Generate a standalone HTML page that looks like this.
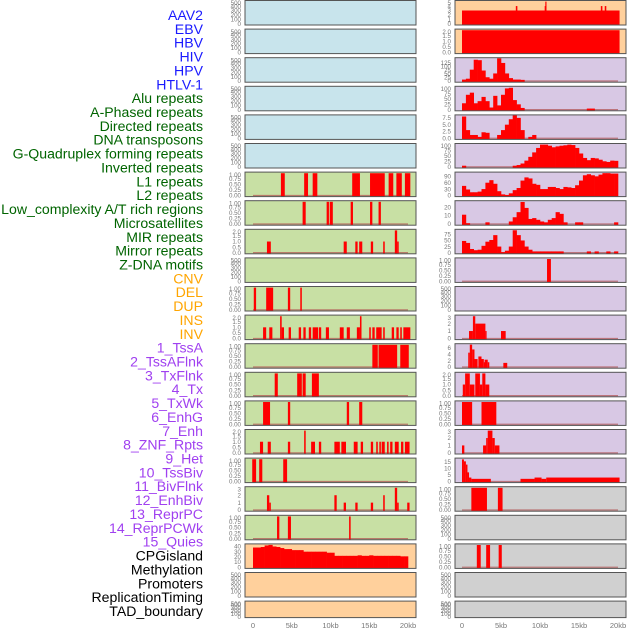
<!DOCTYPE html>
<html><head><meta charset="utf-8"><style>
html,body{margin:0;padding:0;background:#fff;}
svg{display:block;font-family:"Liberation Sans",sans-serif;}
</style></head><body>
<svg id="chart" width="630" height="630" viewBox="0 0 630 630" xmlns="http://www.w3.org/2000/svg"></svg>
<script>
// ---------- data ----------
const trackLabels = ["AAV2","EBV","HBV","HIV","HPV","HTLV-1","Alu repeats","A-Phased repeats","Directed repeats","DNA transposons","G-Quadruplex forming repeats","Inverted repeats","L1 repeats","L2 repeats","Low_complexity A/T rich regions","Microsatellites","MIR repeats","Mirror repeats","Z-DNA motifs","CNV","DEL","DUP","INS","INV","1_TssA","2_TssAFlnk","3_TxFlnk","4_Tx","5_TxWk","6_EnhG","7_Enh","8_ZNF_Rpts","9_Het","10_TssBiv","11_BivFlnk","12_EnhBiv","13_ReprPC","14_ReprPCWk","15_Quies","CPGisland","Methylation","Promoters","ReplicationTiming","TAD_boundary"];
const labelGroups = ["virus","virus","virus","virus","virus","virus","repeat","repeat","repeat","repeat","repeat","repeat","repeat","repeat","repeat","repeat","repeat","repeat","repeat","sv","sv","sv","sv","sv","state","state","state","state","state","state","state","state","state","state","state","state","state","state","state","other","other","other","other","other"];
const xTickValues = [0,5,10,15,20];
const xTickLabels = ["0","5kb","10kb","15kb","20kb"];
const ticks01 = [0,0.25,0.5,0.75,1];
const ticks01Labels = ["0.00","0.25","0.50","0.75","1.00"];
const ticks02 = [0,0.5,1,1.5,2];
const ticks02Labels = ["0.0","0.5","1.0","1.5","2.0"];
const ticks03 = [0,1,2,3];
const ticks500 = [0,100,200,300,400,500];

// left column bar intervals [startKb, endKb, height]
const leftL1 = [[3.6,4.1,1],[6.6,7.1,1],[7.7,8.3,1],[12.8,13.8,1],[15.1,17.0,1],[17.5,18.1,1],[18.5,19.2,1],[19.6,20.3,1]];
const leftL2 = [[6.4,6.8,1],[9.5,9.8,1],[9.9,10.3,1],[12.6,12.9,1],[15.1,15.4,1],[16.2,16.5,1]];
const leftLowComplex = [[1.8,2.3,1],[11.7,12.1,1],[13.2,13.5,1],[13.7,14.1,1],[15.2,15.5,1],[16.8,17.0,1],[18.3,18.6,2],[18.6,18.8,1]];
const leftMIR = [[0.1,0.4,1],[1.7,2.6,1],[4.5,4.8,1],[6.1,6.3,1]];
const leftMirror = [[1.3,1.7,1],[2.1,2.5,1],[3.5,3.7,2],[3.7,4.0,1],[4.6,4.9,1],[5.9,6.2,1],[6.5,6.8,1],[7.2,7.5,1],[7.7,8.4,1],[8.5,8.8,1],[9.4,9.8,1],[11.2,11.7,1],[12.1,12.5,1],[13.4,13.8,1],[13.8,14.0,2],[15.0,15.2,1],[15.4,15.7,1],[15.9,16.6,1],[16.8,17.0,1],[17.9,18.2,1],[18.5,18.8,1],[19.0,19.2,1],[19.4,20.3,1]];
const leftZDNA = [[15.4,16.1,1],[16.2,18.6,1],[19.0,20.1,1]];
const leftCNV = [[2.8,3.2,1],[5.7,6.3,1],[6.4,6.8,1],[7.6,8.5,1]];
const leftDEL = [[1.3,2.2,1],[4.5,4.8,1],[12.1,12.4,1],[13.7,14.1,1]];
const leftDUP = [[0.9,1.3,1],[1.9,2.3,1],[4.5,4.8,1],[6.6,6.8,2],[7.5,8.0,1],[8.5,8.8,1],[10.5,11.2,1],[11.4,12.0,1],[13.0,13.5,1],[13.9,14.2,1],[15.2,15.5,1],[15.9,16.1,1],[16.3,16.5,1],[16.6,17.0,1],[17.3,17.5,1],[17.7,18.0,1],[18.3,18.8,1],[19.1,19.4,1],[19.6,20.2,1]];
const leftINS = [[-0.1,0.4,1],[0.8,1.2,1],[3.9,4.4,1]];
const leftINV = [[1.8,2.1,2],[2.1,2.3,1],[10.5,10.8,2],[11.7,12.0,1],[13.2,13.5,1],[15.2,15.5,1],[16.8,17.0,2],[18.3,18.6,3],[18.6,18.8,1],[19.9,20.2,1]];
const leftTssA = [[3.1,3.4,1],[4.5,4.9,1],[12.4,12.6,1]];
// left CpG profile, 0.5 kb bins from 0 to 20 kb
const leftCpG = [38,38,39,42,43,40,39,37,35,35,33,33,33,30,30,30,30,30,30,28,28,22,22,22,22,22,22,23,22,22,23,22,22,22,22,22,22,22,21,21];

// right column
const rightAAV2 = [[0,20.2,3],[6.9,7.1,4],[10.6,10.8,4],[10.68,10.76,5],[17.8,18.0,4],[18.3,18.5,4]];
const rightEBV = [[0,20.2,2]];
const rightHIV = [10,16,78,146,143,72,26,16,52,156,124,52,20,10,10,8,0,0,0,0,0,0,0,0,0,0,0,0,0,0,0,0,0,0,0,0,0,0,0,0];
const rightHPV = [30,70,80,30,40,60,40,10,65,20,70,100,103,45,25,8,0,0,0,0,0,0,0,0,0,0,0,0,0,0,0,0,5,5,0,0,0,0,0,0];
const rightHTLV = [8,3,1.2,1.2,0.5,2.2,2,0,0,1.2,3,5,7,8.5,7.5,3,0,0.5,1.2,0,0,0,0,0,0,0,0,0,0,0,0,0,0,0,0,0,0,0,0,0];
const rightAlu = [5,0,0,0,0,0,0,0,0,0,0,0,0,5,8,15,28,45,65,85,100,100,95,88,92,95,97,100,98,85,60,40,30,40,38,32,25,22,28,27];
const rightAPhased = [45,28,15,15,18,30,60,72,55,20,5,2,10,25,35,70,85,80,55,50,30,30,40,40,35,30,40,38,35,48,70,95,100,95,90,98,105,105,103,103];
const rightDirected = [11,1,0,0,0,0,2,0,0,0,0,0,3,8,14,26,19,6,7,5,3,2,5,7,14,12,2,0,0,2,2,0,0,0,0,0,0,0,0,2];
const rightLowComplex = [48,40,15,10,12,28,45,52,72,25,2,8,25,92,72,50,25,12,5,5,5,5,5,5,5,5,0,0,0,0,0,0,5,0,5,0,0,5,0,5];
const rightMicro = [[10.9,11.4,1]];
const rightINS = [[0.9,1.4,1],[1.4,1.7,3],[1.7,3.0,2],[3.0,3.1,1],[5.0,5.6,1]];
const rightTssA = [[0.8,1.0,4.5],[1.0,1.3,7],[1.3,1.6,5.5],[1.6,2.0,2.5],[2.1,2.5,3.3],[2.5,2.8,2.5],[2.8,2.9,1.5],[2.9,3.3,2.3],[3.3,3.5,1.5],[5.3,5.8,1.3]];
const rightTssAFlnk = [[0.1,0.4,1],[0.4,1.0,2],[1.0,1.6,1],[1.7,2.3,2],[2.3,2.6,1],[2.6,3.0,2],[3.0,3.5,1]];
const rightTxFlnk = [[0,1.3,1],[2.5,4.4,1]];
const rightTx = [[0,0.3,1],[2.7,3.1,1],[3.1,3.3,2],[3.3,3.9,3],[3.9,4.2,2],[4.2,4.8,1]];
const rightTxWk = [[0,0.25,17],[0.25,0.5,15.5],[0.5,0.7,13],[0.7,0.9,7],[0.9,1.2,3],[1.2,3.7,2],[7.5,9.3,2],[9.3,10.2,3],[10.2,10.8,2],[10.8,20.2,3]];
const rightEnhG = [[1.2,3.2,1],[4.6,5.2,1]];
const rightZNF = [[1.9,2.4,1],[3.1,3.6,1],[4.7,5.1,1]];

// ---------- layout ----------
const svg = document.getElementById('chart');
const NS = 'http://www.w3.org/2000/svg';
function mk(tag, attrs, parent){ const e=document.createElementNS(NS,tag); for(const k in attrs) e.setAttribute(k,attrs[k]); (parent||svg).appendChild(e); return e; }
const BLUE='#c8e4ec', GREEN='#c8e0a4', PEACH='#ffd09c', LAV='#d8c8e4', GRAY='#d0d0d0';
const groupColor = {virus:'#1a1aff',repeat:'#006400',sv:'#ffa500',state:'#a040f0',other:'#000'};

// labels
trackLabels.forEach((t,i)=>{
  const e = mk('text',{x:203,y:15+i*13.86+5,'text-anchor':'end','font-size':'14.1',fill:groupColor[labelGroups[i]]});
  e.textContent = t;
  
  
});

const cols = {
  left:{x0:245,x1:416,zero:253,scale:7.75,tickX:241},
  right:{x0:455,x1:626,zero:462,scale:7.8,tickX:451}
};
function rowTop(r){ return 0.5 + r*28.6; }
function rowH(r){ return r===21 ? 16.5 : 24.5; }

function panel(side,row,bg,ymax,ticks,tickLabels,bars,prof,name){
  const c = cols[side];
  const top=rowTop(row), h=rowH(row), bot=top+h;
  const ymin = -0.05*ymax;
  const ys = v => bot - (v-ymin)/(ymax-ymin)*h;
  const xs = kb => c.zero + kb*c.scale;
  const g = mk('g',{});
  
  
  mk('rect',{x:c.x0,y:top,width:c.x1-c.x0,height:h,fill:bg,stroke:'none'},g);
  if(bars||prof) mk('line',{x1:xs(0),x2:xs(20),y1:ys(0),y2:ys(0),stroke:'#b05050','stroke-width':1.2,'stroke-opacity':0.7},g);
  if(bars){
    bars.forEach(b=>{
      const x1=Math.max(c.x0+1,xs(b[0])), x2=Math.min(c.x1-1,xs(b[1]));
      const r = mk('rect',{x:x1,y:ys(b[2]),width:Math.max(1.2,x2-x1),height:bot-ys(b[2]),fill:'#ff0000'},g);
      
      
    });
  }
  if(prof){
    prof.forEach((v,i)=>{
      if(v<=0) return;
      const x1=xs(i*0.5), x2=xs((i+1)*0.5);
      const r = mk('rect',{x:x1,y:ys(v),width:x2-x1+0.3,height:bot-ys(v),fill:'#ff0000'},g);
      
      
    });
  }
  mk('rect',{x:c.x0,y:top,width:c.x1-c.x0,height:h,fill:'none',stroke:'#555','stroke-width':1},g);
  ticks.forEach((t,i)=>{
    const yy = Math.max(top+2.5, ys(t));
    const e = mk('text',{x:c.tickX,y:yy+2.2,'text-anchor':'end','font-size':'6.2',fill:'#777'},g);
    e.textContent = tickLabels ? tickLabels[i] : String(t);
  });
}

const E = null;
// left column
for(let r=0;r<6;r++) panel('left',r,BLUE,525,ticks500,null,E,E,'empty-virus-panel');
panel('left',6,GREEN,1.05,ticks01,ticks01Labels,leftL1,E,'panel-l1');
panel('left',7,GREEN,1.05,ticks01,ticks01Labels,leftL2,E,'panel-l2');
panel('left',8,GREEN,2.1,ticks02,ticks02Labels,leftLowComplex,E,'panel-low-complexity');
panel('left',9,GREEN,525,ticks500,null,E,E,'panel-microsatellites');
panel('left',10,GREEN,1.05,ticks01,ticks01Labels,leftMIR,E,'panel-mir');
panel('left',11,GREEN,2.1,ticks02,ticks02Labels,leftMirror,E,'panel-mirror');
panel('left',12,GREEN,1.05,ticks01,ticks01Labels,leftZDNA,E,'panel-zdna');
panel('left',13,GREEN,1.05,ticks01,ticks01Labels,leftCNV,E,'panel-cnv');
panel('left',14,GREEN,1.05,ticks01,ticks01Labels,leftDEL,E,'panel-del');
panel('left',15,GREEN,2.1,ticks02,ticks02Labels,leftDUP,E,'panel-dup');
panel('left',16,GREEN,1.05,ticks01,ticks01Labels,leftINS,E,'panel-ins');
panel('left',17,GREEN,3.15,ticks03,null,leftINV,E,'panel-inv');
panel('left',18,GREEN,1.05,ticks01,ticks01Labels,leftTssA,E,'panel-tssa');
panel('left',19,PEACH,45,[0,10,20,30,40],null,E,leftCpG,'panel-cpg');
panel('left',20,PEACH,525,ticks500,null,E,E,'panel-empty-a');
panel('left',21,PEACH,525,ticks500,null,E,E,'panel-empty-b');
// right column
panel('right',0,PEACH,5.25,[0,1,2,3,4,5],null,rightAAV2,E,'panel-aav2');
panel('right',1,PEACH,2.1,ticks02,ticks02Labels,rightEBV,E,'panel-ebv');
panel('right',2,LAV,160,[0,25,50,75,100,125],null,E,rightHIV,'panel-hiv');
panel('right',3,LAV,110,[0,25,50,75,100],null,E,rightHPV,'panel-hpv');
panel('right',4,LAV,8.6,[0,2.5,5,7.5],["0.0","2.5","5.0","7.5"],E,rightHTLV,'panel-htlv');
panel('right',5,LAV,105,[0,25,50,75,100],null,E,rightAlu,'panel-alu');
panel('right',6,LAV,110,[0,30,60,90],null,E,rightAPhased,'panel-aphased');
panel('right',7,LAV,27.5,[0,10,20],null,E,rightDirected,'panel-directed');
panel('right',8,LAV,96,[0,25,50,75],null,E,rightLowComplex,'panel-lowcomplex-r');
panel('right',9,LAV,1.05,ticks01,ticks01Labels,rightMicro,E,'panel-micro-r');
panel('right',10,LAV,525,ticks500,null,E,E,'panel-empty-r');
panel('right',11,LAV,3.15,ticks03,null,rightINS,E,'panel-ins-r');
panel('right',12,LAV,7.3,[0,2,4,6],null,rightTssA,E,'panel-tssa-r');
panel('right',13,LAV,2.1,ticks02,ticks02Labels,rightTssAFlnk,E,'panel-tssaflnk-r');
panel('right',14,LAV,1.05,ticks01,ticks01Labels,rightTxFlnk,E,'panel-txflnk-r');
panel('right',15,LAV,3.15,ticks03,null,rightTx,E,'panel-tx-r');
panel('right',16,LAV,18,[0,5,10,15],null,rightTxWk,E,'panel-txwk-r');
panel('right',17,GRAY,1.05,ticks01,ticks01Labels,rightEnhG,E,'panel-enhg-r');
panel('right',18,GRAY,525,ticks500,null,E,E,'panel-empty-r2');
panel('right',19,GRAY,1.05,ticks01,ticks01Labels,rightZNF,E,'panel-znf-r');
panel('right',20,GRAY,525,ticks500,null,E,E,'panel-empty-r3');
panel('right',21,GRAY,525,ticks500,null,E,E,'panel-empty-r4');

// x axes
['left','right'].forEach(side=>{
  const c = cols[side];
  xTickValues.forEach((v,i)=>{
    const e = mk('text',{x:c.zero+v*c.scale,y:628,'text-anchor':'middle','font-size':'7.5',fill:'#777'});
    e.textContent = xTickLabels[i];
    
    
  });
});
</script>
</body></html>
